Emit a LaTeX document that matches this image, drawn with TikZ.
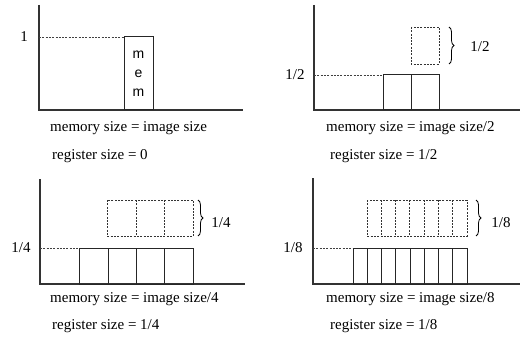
\documentclass[tikz,border=0pt]{standalone}
\usepackage{fontspec}
\setmainfont{Liberation Serif}
\newfontfamily\memfont{Liberation Sans}
\usetikzlibrary{decorations.pathreplacing}
\begin{document}
\begin{tikzpicture}[x=1pt,y=-1pt,
  axisline/.style={line width=1.3pt,color=black!80},
  levelline/.style={line width=0.8pt,color=black!75,dash pattern=on 2pt off 1.3pt},
  memcell/.style={line width=1pt,color=black!85},
  regcell/.style={line width=0.8pt,color=black!80,dash pattern=on 2pt off 1.3pt},
  bracemark/.style={decorate,decoration={brace,amplitude=5pt},line width=0.8pt},
  txt/.style={font=\fontsize{15}{18}\selectfont,inner sep=0pt},
  caption/.style={txt,anchor=west}]
\useasboundingbox (0,0) rectangle (522,342);

% ---- full frame in memory ----
\draw[axisline] (39,5) -- (39,110) -- (243,110);
\node[txt] (l1) at (24,37) {1};
\draw[levelline] (39,37) -- (124,37);
\draw[memcell] (124,37) rectangle (153,110);
\node[inner sep=0pt,font=\memfont\fontsize{14}{16}\selectfont] (m1) at (138.5,55) {m};
\node[inner sep=0pt,font=\memfont\fontsize{14}{16}\selectfont] (m2) at (138.5,74) {e};
\node[inner sep=0pt,font=\memfont\fontsize{14}{16}\selectfont] (m3) at (138.5,93) {m};
\node[caption] (c1a) at (50,128) {memory size = image size};
\node[caption] (c1b) at (52,156) {register size = 0};

% ---- half frame ----
\draw[axisline] (314,5) -- (314,110) -- (520,110);
\node[txt] (l2) at (295,75) {1/2};
\draw[levelline] (314,75) -- (383,75);
\foreach \a/\b in {383/411,411/439}
  \draw[memcell] (\a,75) rectangle (\b,110);
\draw[regcell] (411,27) rectangle (439,64);
\draw[bracemark] (449,27) -- (449,64);
\node[txt] (r2) at (480,47) {1/2};
\node[caption] (c2a) at (326,128) {memory size = image size/2};
\node[caption] (c2b) at (330,156) {register size = 1/2};

% ---- quarter frame ----
\draw[axisline] (40,179) -- (40,284) -- (245,284);
\node[txt] (l3) at (21,248) {1/4};
\draw[levelline] (40,248) -- (79,248);
\foreach \a/\b in {79/108,108/136,136/164,164/193}
  \draw[memcell] (\a,248) rectangle (\b,284);
\draw[regcell] (107,200) rectangle (193,236);
\foreach \x in {136,164}
  \draw[regcell] (\x,200) -- (\x,236);
\draw[bracemark] (198,200) -- (198,236);
\node[txt] (r3) at (221,223) {1/4};
\node[caption] (c3a) at (50,299) {memory size = image size/4};
\node[caption] (c3b) at (52,326) {register size = 1/4};

% ---- eighth frame ----
\draw[axisline] (313,178) -- (313,284) -- (520,284);
\node[txt] (l4) at (293,248) {1/8};
\draw[levelline] (313,248) -- (353,248);
\foreach \i in {0,...,7}
  \draw[memcell] ({353+\i*14.25},248) rectangle ({353+(\i+1)*14.25},284);
\draw[regcell] (367,200) rectangle (467,236);
\foreach \i in {1,...,6}
  \draw[regcell] ({367+\i*100/7},200) -- ({367+\i*100/7},236);
\draw[bracemark] (476,200) -- (476,236);
\node[txt] (r4) at (501,223) {1/8};
\node[caption] (c4a) at (326,299) {memory size = image size/8};
\node[caption] (c4b) at (330,326) {register size = 1/8};
\end{tikzpicture}
\end{document}
